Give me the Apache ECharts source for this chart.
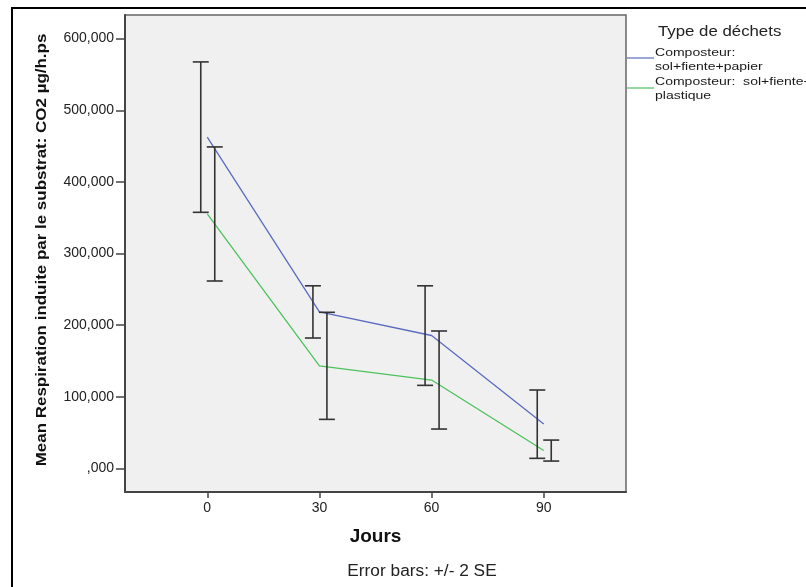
<!DOCTYPE html>
<html>
<head>
<meta charset="utf-8">
<script src="https://cdn.jsdelivr.net/npm/echarts@6/dist/echarts.min.js"></script>
<style>html,body{margin:0;padding:0;background:#fff}#c{width:806px;height:587px}</style>
</head>
<body>
<div id="c"></div>
<script>
const days = [0, 30, 60, 90];
const yTicks = [0, 100000, 200000, 300000, 400000, 500000, 600000];
const xTicks = [0, 30, 60, 90];
const seriesNames = ['Composteur: sol+fiente+papier', 'Composteur: sol+fiente+plastique'];
const papierMean = [462500, 218500, 185500, 62000];
const papierLow  = [357500, 182000, 115900, 14000];
const papierHigh = [567500, 254900, 254900, 109400];
const plastiqueMean = [355200, 143000, 123300, 25000];
const plastiqueLow  = [261600, 68400, 54900, 10200];
const plastiqueHigh = [448800, 217900, 191800, 39500];

const colors = ['#5b6bc0', '#4cc25c'];
const barOffsets = [-6.5, 7.5];

function fmt(v) {
  if (v === 0) return ',000';
  return String(v / 1000) + ',000';
}

function errSeries(low, high, idx) {
  return {
    type: 'custom',
    name: seriesNames[idx] + ' error',
    data: days.map((d, i) => [d, low[i], high[i]]),
    z: 5,
    renderItem: function (params, api) {
      const p1 = api.coord([api.value(0), api.value(1)]);
      const p2 = api.coord([api.value(0), api.value(2)]);
      const x = p1[0] + barOffsets[idx];
      const hw = 8;
      const st = { stroke: '#333', lineWidth: 1.6 };
      return {
        type: 'group',
        children: [
          { type: 'line', shape: { x1: x, y1: p1[1], x2: x, y2: p2[1] }, style: st },
          { type: 'line', shape: { x1: x - hw, y1: p1[1], x2: x + hw, y2: p1[1] }, style: st },
          { type: 'line', shape: { x1: x - hw, y1: p2[1], x2: x + hw, y2: p2[1] }, style: st }
        ]
      };
    }
  };
}

const font = "'Liberation Sans', Arial, sans-serif";
function txt(s, x, y, size, sx, opts) {
  opts = opts || {};
  return {
    type: 'text', x: x, y: y, scaleX: sx, rotation: opts.rot || 0, silent: true,
    style: {
      text: s, x: 0, y: 0,
      fontFamily: font, fontSize: size, fontWeight: opts.bold ? 'bold' : 'normal',
      fill: opts.fill || '#1a1a1a',
      align: opts.align || 'left', verticalAlign: 'middle'
    }
  };
}

const chart = echarts.init(document.getElementById('c'), null, { renderer: 'canvas' });
chart.setOption({
  animation: false,
  textStyle: { fontFamily: font },
  grid: {
    left: 125, top: 15, width: 501, height: 477,
    show: true, backgroundColor: '#f0f0f0', borderColor: '#666', borderWidth: 1.5
  },
  xAxis: {
    type: 'value', min: -22, max: 112,
    name: 'Jours', nameLocation: 'middle', nameGap: 35,
    nameTextStyle: { fontWeight: 'bold', fontSize: 19, color: '#111', fontFamily: font },
    axisLine: { show: true, onZero: false, lineStyle: { color: '#444', width: 2 } },
    axisTick: { show: true, length: 6, lineStyle: { color: '#444', width: 1.5 }, customValues: xTicks },
    axisLabel: { customValues: xTicks, color: '#222', fontSize: 14, margin: 9, fontFamily: font },
    splitLine: { show: false }
  },
  yAxis: {
    type: 'value', min: -33000, max: 633000,
    axisLine: { show: true, onZero: false, lineStyle: { color: '#444', width: 2 } },
    axisTick: { show: true, length: 9, lineStyle: { color: '#444', width: 1.5 }, customValues: yTicks },
    axisLabel: { customValues: yTicks, color: '#222', fontSize: 14, margin: 11, formatter: fmt, fontFamily: font },
    splitLine: { show: false }
  },
  series: [
    {
      type: 'line', name: seriesNames[0], data: days.map((d, i) => [d, papierMean[i]]),
      showSymbol: false, lineStyle: { color: colors[0], width: 1.3 }, itemStyle: { color: colors[0] }, z: 4
    },
    {
      type: 'line', name: seriesNames[1], data: days.map((d, i) => [d, plastiqueMean[i]]),
      showSymbol: false, lineStyle: { color: colors[1], width: 1.3 }, itemStyle: { color: colors[1] }, z: 4
    },
    errSeries(papierLow, papierHigh, 0),
    errSeries(plastiqueLow, plastiqueHigh, 1)
  ],
  graphic: [
    { type: 'rect', shape: { x: 12, y: 8, width: 900, height: 700 }, style: { fill: 'none', stroke: '#000', lineWidth: 2 }, silent: true },
    txt('Mean Respiration induite par le substrat: CO2 µg/h.ps', 42, 250, 15, 1.13, { bold: true, rot: Math.PI / 2, align: 'center', fill: '#111' }),
    txt('Type de déchets', 658, 32, 14, 1.2, { fill: '#222' }),
    { type: 'line', shape: { x1: 627, y1: 58, x2: 654, y2: 58 }, style: { stroke: colors[0], lineWidth: 1.2 }, silent: true },
    txt('Composteur:', 655, 53, 11.5, 1.22),
    txt('sol+fiente+papier', 655, 67, 11.5, 1.22),
    { type: 'line', shape: { x1: 627, y1: 88, x2: 654, y2: 88 }, style: { stroke: colors[1], lineWidth: 1.2 }, silent: true },
    txt('Composteur:  sol+fiente+', 655, 82, 11.5, 1.22),
    txt('plastique', 655, 96, 11.5, 1.22),
    txt('Error bars: +/- 2 SE', 422, 572, 16, 1.08, { align: 'center', fill: '#222' })
  ]
});
</script>
</body>
</html>
